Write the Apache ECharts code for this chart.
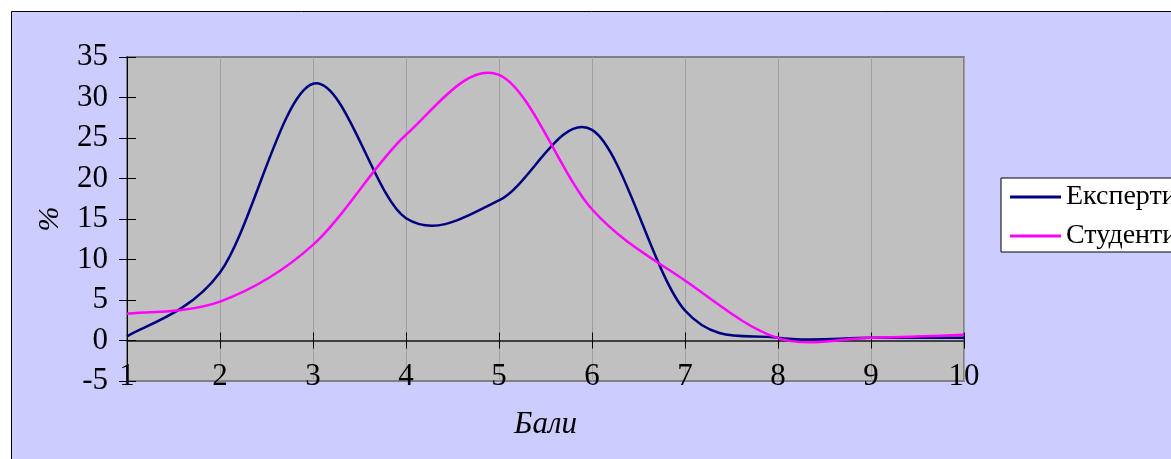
<!DOCTYPE html>
<html>
<head>
<meta charset="utf-8">
<script src="https://cdn.jsdelivr.net/npm/echarts@6/dist/echarts.min.js"></script>
<style>
  html, body { margin: 0; padding: 0; background: #fff; }
  #chart { width: 1171px; height: 459px; }
</style>
</head>
<body>
<div id="chart"></div>
<script>
// scores (Бали)
const bali = [1, 2, 3, 4, 5, 6, 7, 8, 9, 10]
// % per score
const eksperty = [0.5, 8.4, 31.7, 15.1, 17.3, 26.0, 3.7, 0.35, 0.35, 0.35]
const studenty = [3.3, 4.8, 11.8, 25.4, 32.8, 16.2, 7.4, 0.3, 0.35, 0.7]

const font = 'Liberation Serif'

// excel-like smoothed line (catmull-rom bezier), drawn through the chart's own axes
const smoothCurve = (ys, color) => (params, api) => {
  if (params.dataIndex !== 0) return
  const pts = ys.map((y, i) => api.coord([bali[i], y]))
  const n = pts.length
  let d = `M${pts[0][0]},${pts[0][1]}`
  for (let i = 0; i < n - 1; i++) {
    const p0 = pts[Math.max(i - 1, 0)]
    const p1 = pts[i]
    const p2 = pts[i + 1]
    const p3 = pts[Math.min(i + 2, n - 1)]
    const c1x = p1[0] + (p2[0] - p0[0]) / 6
    const c1y = p1[1] + (p2[1] - p0[1]) / 6
    const c2x = p2[0] - (p3[0] - p1[0]) / 6
    const c2y = p2[1] - (p3[1] - p1[1]) / 6
    d += ` C${c1x},${c1y} ${c2x},${c2y} ${p2[0]},${p2[1]}`
  }
  return {
    type: 'path',
    shape: { pathData: d },
    style: { stroke: color, lineWidth: 2.5, fill: null }
  }
}

const chart = echarts.init(document.getElementById('chart'))

const option = {
  animation: false,
  textStyle: { fontFamily: font },
  graphic: {
    elements: [
      {
        type: 'rect',
        z: -100,
        silent: true,
        shape: { x: 11.5, y: 11.5, width: 1300, height: 600 },
        style: { fill: '#ccccff', stroke: '#000', lineWidth: 1 }
      }
    ]
  },
  grid: {
    left: 127,
    right: 207,
    top: 57,
    bottom: 78,
    show: true,
    backgroundColor: '#c0c0c0',
    borderColor: '#808080',
    borderWidth: 2
  },
  legend: {
    orient: 'vertical',
    left: 1001,
    top: 178,
    backgroundColor: '#fff',
    borderColor: '#000',
    borderWidth: 1,
    borderRadius: 0,
    padding: [5, 200, 2, 9],
    itemGap: 11,
    itemWidth: 51,
    itemHeight: 3,
    icon: 'rect',
    textStyle: { fontFamily: font, fontSize: 28, color: '#000' },
    data: ['Експерти', 'Студенти']
  },
  xAxis: [
    {
      type: 'value',
      position: 'bottom',
      min: 1,
      max: 10,
      interval: 1,
      axisLine: { onZero: true, lineStyle: { color: '#404040', width: 2 } },
      axisTick: { show: true, inside: false, length: 8, lineStyle: { color: '#000', width: 1 } },
      axisLabel: { show: false },
      splitLine: { show: true, lineStyle: { color: '#a0a0a0', width: 1 } }
    },
    {
      type: 'value',
      position: 'top',
      min: 1,
      max: 10,
      interval: 1,
      axisLine: { show: false, onZero: true },
      axisTick: { show: true, inside: false, length: 8, lineStyle: { color: '#000', width: 1 } },
      axisLabel: { show: false },
      splitLine: { show: false }
    },
    {
      type: 'value',
      position: 'bottom',
      min: 1,
      max: 10,
      interval: 1,
      name: 'Бали',
      nameLocation: 'middle',
      nameGap: 28,
      nameTextStyle: { fontFamily: font, fontSize: 31, fontStyle: 'italic', color: '#000' },
      axisLine: { show: false, onZero: false },
      axisTick: { show: false },
      axisLabel: { margin: -20, fontFamily: font, fontSize: 31, color: '#000' },
      splitLine: { show: false }
    }
  ],
  yAxis: [
    {
      type: 'value',
      position: 'left',
      min: -5,
      max: 35,
      interval: 5,
      name: '%',
      nameLocation: 'middle',
      nameGap: 62,
      nameRotate: 90,
      nameTextStyle: { fontFamily: font, fontSize: 30, fontStyle: 'italic', color: '#000' },
      axisLine: { show: true, lineStyle: { color: '#000', width: 1 } },
      axisTick: { show: true, inside: false, length: 8, lineStyle: { color: '#000', width: 1 } },
      axisLabel: { margin: 19, fontFamily: font, fontSize: 31, color: '#000' },
      splitLine: { show: false }
    },
    {
      type: 'value',
      position: 'left',
      min: -5,
      max: 35,
      interval: 5,
      axisLine: { show: false },
      axisTick: { show: true, inside: true, length: 9, lineStyle: { color: '#000', width: 1 } },
      axisLabel: { show: false },
      splitLine: { show: false }
    }
  ],
  series: [
    {
      name: 'Експерти',
      type: 'custom',
      coordinateSystem: 'cartesian2d',
      xAxisIndex: 0,
      yAxisIndex: 0,
      itemStyle: { color: '#000080' },
      renderItem: smoothCurve(eksperty, '#000080'),
      data: bali.map((x, i) => [x, eksperty[i]])
    },
    {
      name: 'Студенти',
      type: 'custom',
      coordinateSystem: 'cartesian2d',
      xAxisIndex: 0,
      yAxisIndex: 0,
      itemStyle: { color: '#ff00ff' },
      renderItem: smoothCurve(studenty, '#ff00ff'),
      data: bali.map((x, i) => [x, studenty[i]])
    }
  ]
}

chart.setOption(option)
</script>
</body>
</html>
